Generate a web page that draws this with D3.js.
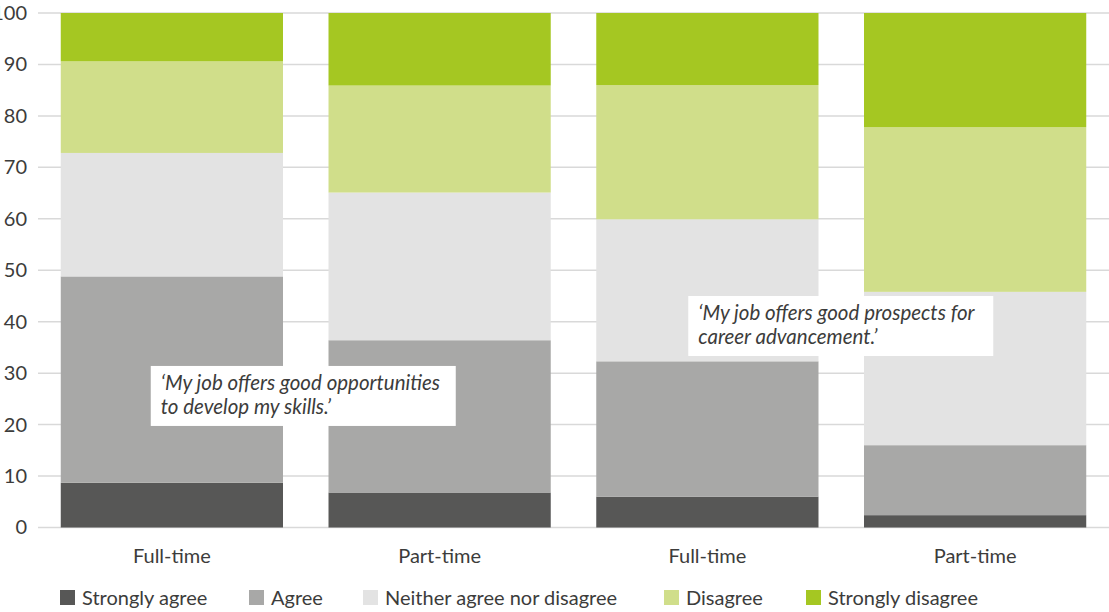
<!DOCTYPE html>
<html>
<head>
<meta charset="utf-8">
<script src="https://cdn.jsdelivr.net/npm/d3@7"></script>
<style>
  html, body { margin: 0; padding: 0; background: #fff; }
  svg { display: block; }
  text { font-family: Lato, "Open Sans", sans-serif; fill: #3c3c3b; }
</style>
</head>
<body>
<svg id="chart" width="1109" height="612"></svg>
<script>
// Response categories, bottom to top of each stack
const responses = ["Strongly agree", "Agree", "Neither agree nor disagree", "Disagree", "Strongly disagree"];
const colors = ["#575756", "#a8a8a7", "#e3e3e3", "#d0de8a", "#a5c722"];

// Columns: two statements, each split by working pattern
const groups = ["Full-time", "Part-time", "Full-time", "Part-time"];

// Share of respondents (%) per response, one array per response
const stronglyAgree    = [8.7, 6.8, 6.0, 2.4];
const agree            = [40.1, 29.6, 26.3, 13.6];
const neither          = [24.0, 28.7, 27.6, 29.8];
const disagree         = [17.8, 20.8, 26.1, 32.0];
const stronglyDisagree = [9.4, 14.1, 14.0, 22.2];

const yTicks = [0, 10, 20, 30, 40, 50, 60, 70, 80, 90, 100];

const statements = [
  ["\u2018My job offers good opportunities", "to develop my skills.\u2019"],
  ["\u2018My job offers good prospects for", "career advancement.\u2019"]
];

const series = [stronglyAgree, agree, neither, disagree, stronglyDisagree];
const rows = groups.map((g, i) => {
  const r = { idx: i };
  responses.forEach((k, j) => { r[k] = series[j][i]; });
  return r;
});

const FONT = "Lato, 'Open Sans', sans-serif";
const svg = d3.select("#chart");
const plotLeft = 38, plotRight = 1109, plotTop = 13, plotBottom = 527.5;

const x = d3.scaleBand().domain(d3.range(groups.length)).range([plotLeft, plotRight])
  .paddingInner(0.17).paddingOuter(0.085);
const y = d3.scaleLinear().domain([0, 100]).range([plotBottom, plotTop]);

// Grid lines
svg.append("g").selectAll("line").data(yTicks).join("line")
  .attr("x1", plotLeft).attr("x2", plotRight)
  .attr("y1", d => y(d)).attr("y2", d => y(d))
  .attr("stroke", "#d9d9d9").attr("stroke-width", 1.5);

// Y axis labels
const yAxis = d3.axisLeft(y).tickValues(yTicks).tickSize(0).tickPadding(0);
const ya = svg.append("g").attr("transform", `translate(${plotLeft - 11},0)`).call(yAxis);
ya.select(".domain").remove();
ya.selectAll("text").attr("font-size", 20).attr("font-family", FONT).attr("fill", "#3c3c3b");

// Stacked bars
const stack = d3.stack().keys(responses)(rows);
svg.append("g").selectAll("g").data(stack).join("g")
  .attr("fill", (d, i) => colors[i])
  .selectAll("rect").data(d => d).join("rect")
  .attr("x", d => x(d.data.idx))
  .attr("width", x.bandwidth())
  .attr("y", d => y(d[1]))
  .attr("height", d => y(d[0]) - y(d[1]));

// X axis labels
const xAxis = d3.axisBottom(x).tickFormat(i => groups[i]).tickSize(0).tickPadding(0);
const xa = svg.append("g").attr("transform", `translate(0,${plotBottom + 35})`).call(xAxis);
xa.select(".domain").remove();
xa.selectAll("text").attr("font-size", 20).attr("font-family", FONT).attr("fill", "#3c3c3b").attr("dy", 0);

// Statement labels on white boxes
const boxW = 305, boxH = 60;
const boxes = [
  { dx: x(0) + 90, dy: y(31.4) },
  { dx: x(2) + 92, dy: y(45) }
];
statements.forEach((lines, i) => {
  const g = svg.append("g").attr("transform", `translate(${boxes[i].dx},${boxes[i].dy})`);
  g.append("rect").attr("width", boxW).attr("height", boxH).attr("fill", "#fff");
  g.selectAll("text").data(lines).join("text")
    .attr("x", 10).attr("y", (d, j) => 24 + j * 24)
    .attr("font-size", 20.5).attr("font-style", "italic")
    .attr("fill", "#1d1d1b")
    .text(d => d);
});

// Legend
const legendX = [60, 249, 363, 664, 806];
const lg = svg.append("g").selectAll("g").data(responses).join("g")
  .attr("transform", (d, i) => `translate(${legendX[i]},590)`);
lg.append("rect").attr("width", 15).attr("height", 15).attr("fill", (d, i) => colors[i]);
lg.append("text").attr("x", 22).attr("y", 15).attr("font-size", 20).text(d => d);
</script>
</body>
</html>
